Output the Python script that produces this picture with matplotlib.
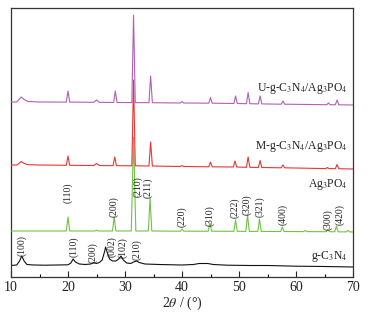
import matplotlib
matplotlib.use("Agg")
import matplotlib.pyplot as plt

plt.rcParams['font.family'] = ['Liberation Serif', 'DejaVu Serif']
plt.rcParams['mathtext.fontset'] = 'stix'

# ---------------- data (intensity above each curve's own baseline) ----------------
u_x = [10, 11.0, 11.4, 11.8, 12.3, 13.0, 15, 19.7, 20.0, 20.3, 24.5, 25.0, 25.5,
       28.0, 28.3, 28.6, 31.2, 31.5, 31.8, 34.2, 34.5, 34.8, 39.7, 40.0, 40.3,
       44.7, 45.0, 45.3, 49.1, 49.4, 49.7, 51.3, 51.6, 51.9, 53.4, 53.7, 54.0,
       57.4, 57.7, 58.0, 65.4, 65.7, 66.0, 66.9, 67.2, 67.5, 70]
u_y = [3, 3, 5.5, 8, 5.5, 3.5, 3, 2.9, 14, 2.9, 2.7, 5, 2.7,
       2.5, 14, 2.5, 2.4, 90, 2.4, 2.3, 29, 2.3, 2.0, 3.5, 2.0,
       1.8, 7.5, 1.8, 1.5, 9, 1.5, 1.3, 12.5, 1.3, 1.1, 9, 1.1,
       0.8, 4, 0.8, 0.3, 2, 0.3, 0.2, 5, 0.2, 0]

m_x = [10, 11.0, 11.4, 11.8, 12.3, 13.0, 15, 19.7, 20.0, 20.3, 24.5, 25.0, 25.5,
       27.9, 28.2, 28.5, 31.2, 31.5, 31.8, 34.2, 34.5, 34.8, 39.7, 40.0, 40.3,
       44.7, 45.0, 45.3, 49.0, 49.3, 49.6, 51.3, 51.6, 51.9, 53.4, 53.7, 54.0,
       57.4, 57.7, 58.0, 65.2, 65.5, 65.8, 66.9, 67.2, 67.5, 70]
m_y = [4, 4, 5.5, 7.5, 5.5, 4.3, 4, 3.7, 13, 3.7, 3.5, 5.5, 3.5,
       3.3, 12, 3.3, 3.2, 89, 3.2, 3.0, 27, 3.0, 2.5, 3.5, 2.5,
       2.2, 7, 2.2, 2.0, 8, 2.0, 1.7, 12, 1.7, 1.5, 8.5, 1.5,
       1.2, 4, 1.2, 0.4, 1.5, 0.4, 0.3, 4.5, 0.3, 0]

a_x = [10, 15, 19.7, 20.0, 20.3, 24.7, 25.0, 25.3, 27.8, 28.1, 28.4,
       31.1, 31.5, 31.9, 34.1, 34.4, 34.7, 39.7, 40.0, 40.3,
       44.6, 44.9, 45.2, 49.1, 49.4, 49.7, 51.2, 51.5, 51.8, 53.3, 53.6, 53.9,
       57.3, 57.6, 57.9, 61.3, 61.6, 61.9, 65.3, 65.6, 65.9, 66.8, 67.1, 67.4,
       68.8, 69.1, 69.4, 70]
a_y = [1, 1, 1, 15, 1, 1, 1.8, 1, 1, 15, 1,
       1, 95, 1, 1, 34, 1, 0.8, 3, 0.8,
       0.8, 9, 0.8, 0.7, 12, 0.7, 0.6, 17, 0.6, 0.6, 13, 0.6,
       0.5, 5, 0.5, 0.4, 1.5, 0.4, 0.3, 2.5, 0.3, 0.2, 6, 0.2,
       0.1, 1.5, 0.1, 0]

g_x = [10, 11.0, 11.5, 11.9, 12.3, 12.8, 14, 16, 18, 20, 20.5, 20.9, 21.3, 22, 23,
       24, 24.5, 25, 25.5, 26, 26.4, 26.6, 26.9, 27.3, 27.8, 28.4, 28.9, 29.3, 29.7,
       30.3, 31, 31.5, 32, 32.5, 33.5, 36, 40, 42, 43, 44.5, 45.5, 48, 52, 55, 60, 65, 70]
g_y = [1.5, 2, 6, 11, 6, 2.5, 2, 1.8, 2, 2.2, 4, 8, 5, 3, 2.5,
       3, 4.5, 3.5, 4.5, 7, 15, 20, 14, 8, 6, 6, 8, 11, 7,
       4, 3.5, 5, 6, 4.5, 3, 2.5, 2, 2.5, 3.5, 3.5, 2.5, 1.8, 1.5, 1.5, 0.8, 0.5, 0]

series_names = ['U-g-C$_3$N$_4$/Ag$_3$PO$_4$', 'M-g-C$_3$N$_4$/Ag$_3$PO$_4$',
                'Ag$_3$PO$_4$', 'g-C$_3$N$_4$']

ag_hkl = ['(110)', '(200)', '(210)', '(211)', '(220)', '(310)', '(222)', '(320)',
          '(321)', '(400)', '(300)', '(420)']
ag_hkl_x = [20.0, 28.1, 32.3, 34.0, 40.0, 44.8, 49.3, 51.4, 53.7, 57.7, 65.6, 67.7]
ag_hkl_px = [203, 217, 197, 198, 227, 226, 218, 215, 217, 225, 230, 225]

gc_hkl = ['(100)', '(110)', '(200)', '(002)', '(102)', '(210)']
gc_hkl_x = [11.9, 21.0, 24.4, 27.7, 29.6, 32.1]
gc_hkl_px = [256, 257, 263, 257, 258, 260]

# ---------------- layout / style ----------------
W, H = 367, 316
fig = plt.figure(figsize=(W / 100, H / 100), dpi=100)
ax_l, ax_r, ax_t, ax_b = 11, 353, 8, 277
ax = fig.add_axes([ax_l / W, (H - ax_b) / H, (ax_r - ax_l) / W, (ax_b - ax_t) / H])
ax.set_xlim(10, 70)
ax.set_ylim(0, ax_b - ax_t)

offsets = [172, 108, 45, 10]
colors = ['#b25fb8', '#ee3333', '#72c245', '#111111']
curves = [(u_x, u_y), (m_x, m_y), (a_x, a_y), (g_x, g_y)]
zorders = [5, 4, 3, 2]
for (xs, ys), off, c, z in zip(curves, offsets, colors, zorders):
    ax.plot(xs, [v + off for v in ys], color=c, lw=0.8, zorder=z)

label_px = [88, 147, 185, 257]
for name, py in zip(series_names, label_px):
    ax.text(69.1, ax_b - py, name, ha='right', va='center', fontsize=8.4, color='#222222')

for t, x, py in zip(ag_hkl, ag_hkl_x, ag_hkl_px):
    ax.text(x, ax_b - py, t, rotation=90, ha='center', va='bottom', fontsize=7,
            color='#222222')
for t, x, py in zip(gc_hkl, gc_hkl_x, gc_hkl_px):
    ax.text(x, ax_b - py, t, rotation=90, ha='center', va='bottom', fontsize=7,
            color='#222222')

ax.set_xticks(range(10, 71, 10))
ax.set_xticks(range(15, 70, 10), minor=True)
ax.set_yticks([])
ax.tick_params(axis='x', which='major', direction='in', length=4, width=0.8,
               labelsize=10, pad=3, colors='#222222')
ax.tick_params(axis='x', which='minor', direction='in', length=2.5, width=0.8)
for s in ax.spines.values():
    s.set_linewidth(0.9)
    s.set_color('#333333')
ax.set_xlabel(r'2$\theta$ / (°)', fontsize=10, labelpad=0, color='#222222')

fig.savefig('out.png', dpi=100)
